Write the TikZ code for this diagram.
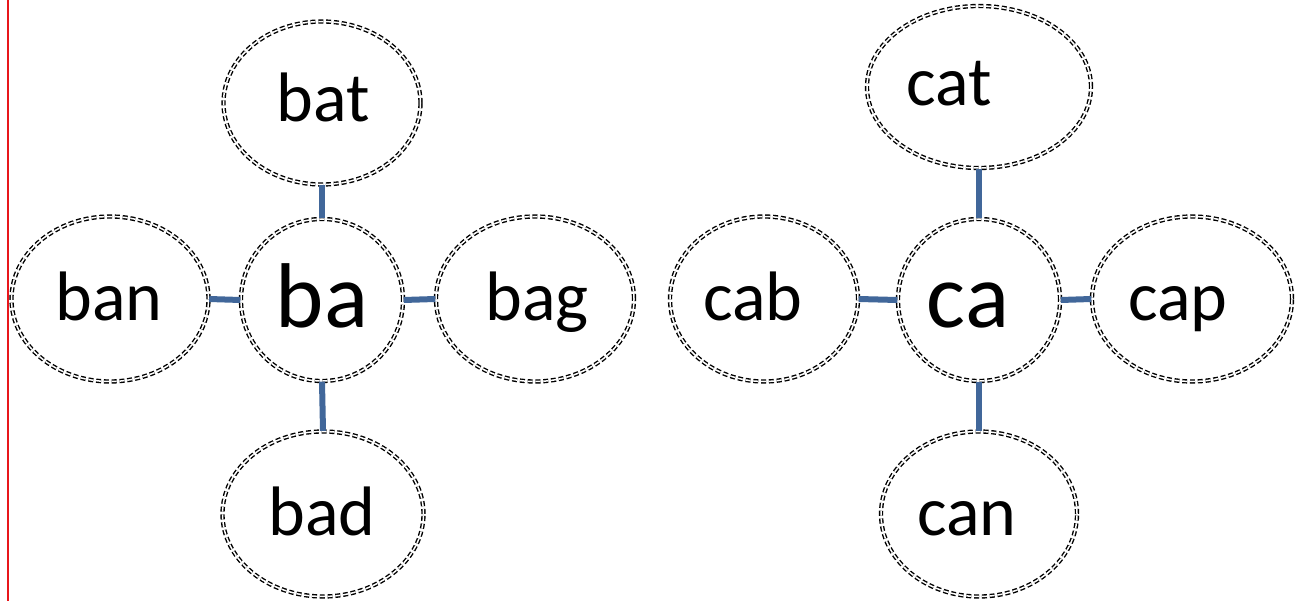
\documentclass[tikz,border=0pt]{standalone}
\usepackage{fontspec}
\setmainfont{Carlito}
\usetikzlibrary{shapes.geometric}
\definecolor{linkblue}{HTML}{41679A}
\definecolor{redline}{HTML}{E8161B}
\tikzset{
  bub/.style={ellipse, inner sep=0pt, draw=black, line width=1.4pt, double=white, double distance=1.5pt, dash pattern=on 5pt off 2.8pt},
  small/.style={font=\fontsize{70}{74}\selectfont, inner sep=0pt, anchor=base},
  big/.style={font=\fontsize{92}{96}\selectfont, inner sep=0pt, anchor=base},
  link/.style={draw=linkblue, line width=6pt}
}
\begin{document}
\begin{tikzpicture}[x=1pt,y=-1pt]
\useasboundingbox (0,0) rectangle (1295,601);
\coordinate (rtop) at (8,0);
\coordinate (rbot) at (8,601);
\draw[redline, line width=2.5pt] (rtop) -- (rbot);
% b group
\node[bub, minimum width=197pt, minimum height=163pt] (bat) at (322,103) {};
\node[bub, minimum width=162pt, minimum height=162pt] (ba) at (322,300) {};
\node[bub, minimum width=197pt, minimum height=165pt] (ban) at (110,299) {};
\node[bub, minimum width=198pt, minimum height=165pt] (bag) at (535,299) {};
\node[bub, minimum width=201pt, minimum height=165pt] (bad) at (323,514) {};
% c group
\node[bub, minimum width=224pt, minimum height=162pt] (cat) at (979,87) {};
\node[bub, minimum width=162pt, minimum height=162pt] (ca) at (979,300) {};
\node[bub, minimum width=188pt, minimum height=165pt] (cab) at (764,299) {};
\node[bub, minimum width=200pt, minimum height=165pt] (cap) at (1192,299) {};
\node[bub, minimum width=196pt, minimum height=165pt] (can) at (979,514) {};
% texts
\node[small] (batt) at (323,122) {bat};
\node[big] (bat2) at (322,327) {ba};
\node[small] (bant) at (109,321) {ban};
\node[small] (bagt) at (537,321) {bag};
\node[small] (badt) at (322,535) {bad};
\node[small] (catt) at (949,106) {cat};
\node[big] (cat2) at (968,327) {ca};
\node[small] (cabt) at (753,321) {cab};
\node[small] (capt) at (1178,321) {cap};
\node[small] (cant) at (967,535) {can};
% links
\draw[link] (bat.south) -- (ba.north);
\draw[link] (ba.south) -- (bad.north);
\draw[link] (ban.east) -- (ba.west);
\draw[link] (ba.east) -- (bag.west);
\draw[link] (cat.south) -- (ca.north);
\draw[link] (ca.south) -- (can.north);
\draw[link] (cab.east) -- (ca.west);
\draw[link] (ca.east) -- (cap.west);
\end{tikzpicture}
\end{document}
